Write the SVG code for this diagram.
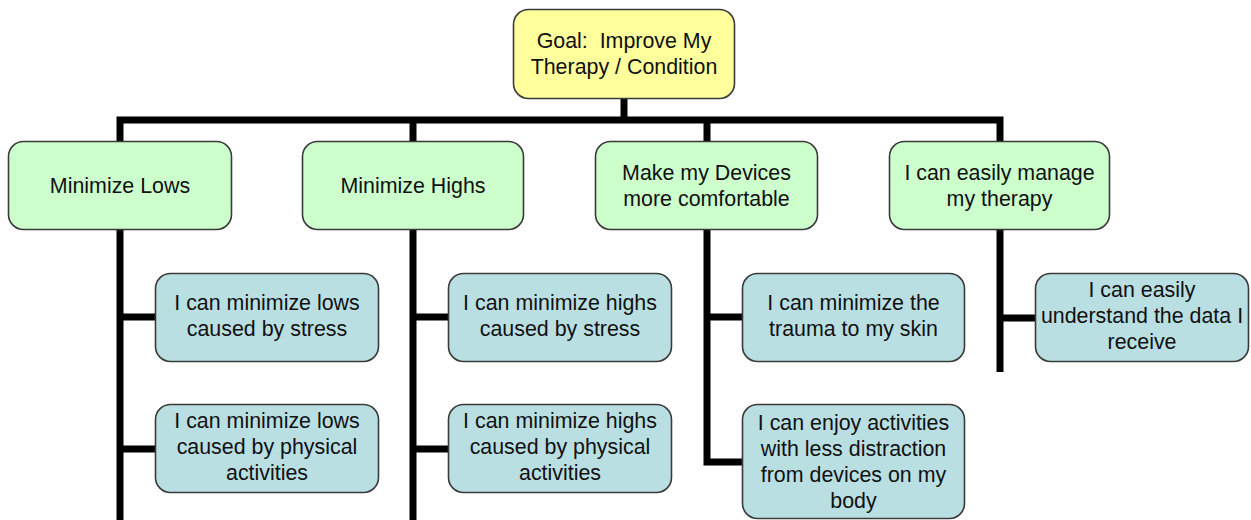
<svg xmlns="http://www.w3.org/2000/svg" width="1251" height="520" viewBox="0 0 1251 520">
  <style>
    .box { stroke: #3a3a3a; stroke-width: 1.6; }
    .goal { fill: #FFFF9C; }
    .mid { fill: #CCFFCC; }
    .leaf { fill: #BADFE2; }
    .lbl { font-family: "Liberation Sans", Arial, sans-serif; font-size: 21.4px; fill: #111; text-anchor: middle; }
    .wire { stroke: #000; stroke-width: 7; fill: none; stroke-linecap: butt; stroke-linejoin: miter; }
  </style>
  <rect width="1251" height="520" fill="#fff"/>

  <!-- tree connectors -->
  <g id="connectors">
    <path class="wire" d="M624,99 V120"/>
    <path class="wire" d="M120,520 V120 H1000 V372"/>
    <path class="wire" d="M413,120 V520"/>
    <path class="wire" d="M707,120 V462 H742"/>
    <path class="wire" d="M120,317 H155"/>
    <path class="wire" d="M120,449 H155"/>
    <path class="wire" d="M413,317 H448"/>
    <path class="wire" d="M413,449 H448"/>
    <path class="wire" d="M707,317 H742"/>
    <path class="wire" d="M1000,318 H1035"/>
  </g>

  <!-- root -->
  <g id="goal">
    <rect class="box goal" x="513.5" y="9.5" width="221" height="89" rx="15"/>
    <text class="lbl" x="624" y="48" xml:space="preserve">Goal:  Improve My</text>
    <text class="lbl" x="624" y="74">Therapy / Condition</text>
  </g>

  <!-- second level -->
  <g id="minimize-lows">
    <rect class="box mid" x="8.5" y="141.5" width="223" height="88" rx="15"/>
    <text class="lbl" x="120" y="193">Minimize Lows</text>
  </g>
  <g id="minimize-highs">
    <rect class="box mid" x="302.5" y="141.5" width="221" height="88" rx="15"/>
    <text class="lbl" x="413" y="193">Minimize Highs</text>
  </g>
  <g id="devices-comfortable">
    <rect class="box mid" x="595.5" y="141.5" width="222" height="88" rx="15"/>
    <text class="lbl" x="706.5" y="180">Make my Devices</text>
    <text class="lbl" x="706.5" y="206">more comfortable</text>
  </g>
  <g id="manage-therapy">
    <rect class="box mid" x="889.5" y="141.5" width="220" height="88" rx="15"/>
    <text class="lbl" x="999.5" y="180">I can easily manage</text>
    <text class="lbl" x="999.5" y="206">my therapy</text>
  </g>

  <!-- third level -->
  <g id="lows-stress">
    <rect class="box leaf" x="155.5" y="273.5" width="223" height="88" rx="15"/>
    <text class="lbl" x="267" y="310">I can minimize lows</text>
    <text class="lbl" x="267" y="336">caused by stress</text>
  </g>
  <g id="lows-physical">
    <rect class="box leaf" x="155.5" y="404.5" width="223" height="88" rx="15"/>
    <text class="lbl" x="267" y="428">I can minimize lows</text>
    <text class="lbl" x="267" y="454">caused by physical</text>
    <text class="lbl" x="267" y="480">activities</text>
  </g>
  <g id="highs-stress">
    <rect class="box leaf" x="448.5" y="273.5" width="223" height="88" rx="15"/>
    <text class="lbl" x="560" y="310">I can minimize highs</text>
    <text class="lbl" x="560" y="336">caused by stress</text>
  </g>
  <g id="highs-physical">
    <rect class="box leaf" x="448.5" y="404.5" width="223" height="88" rx="15"/>
    <text class="lbl" x="560" y="428">I can minimize highs</text>
    <text class="lbl" x="560" y="454">caused by physical</text>
    <text class="lbl" x="560" y="480">activities</text>
  </g>
  <g id="skin-trauma">
    <rect class="box leaf" x="742.5" y="273.5" width="222" height="88" rx="15"/>
    <text class="lbl" x="853.5" y="310">I can minimize the</text>
    <text class="lbl" x="853.5" y="336">trauma to my skin</text>
  </g>
  <g id="enjoy-activities">
    <rect class="box leaf" x="742.5" y="404.5" width="222" height="114" rx="15"/>
    <text class="lbl" x="853.5" y="430">I can enjoy activities</text>
    <text class="lbl" x="853.5" y="456">with less distraction</text>
    <text class="lbl" x="853.5" y="482">from devices on my</text>
    <text class="lbl" x="853.5" y="508">body</text>
  </g>
  <g id="understand-data">
    <rect class="box leaf" x="1035.5" y="273.5" width="213" height="88" rx="15"/>
    <text class="lbl" x="1142" y="297">I can easily</text>
    <text class="lbl" x="1142" y="323">understand the data I</text>
    <text class="lbl" x="1142" y="349">receive</text>
  </g>
</svg>
